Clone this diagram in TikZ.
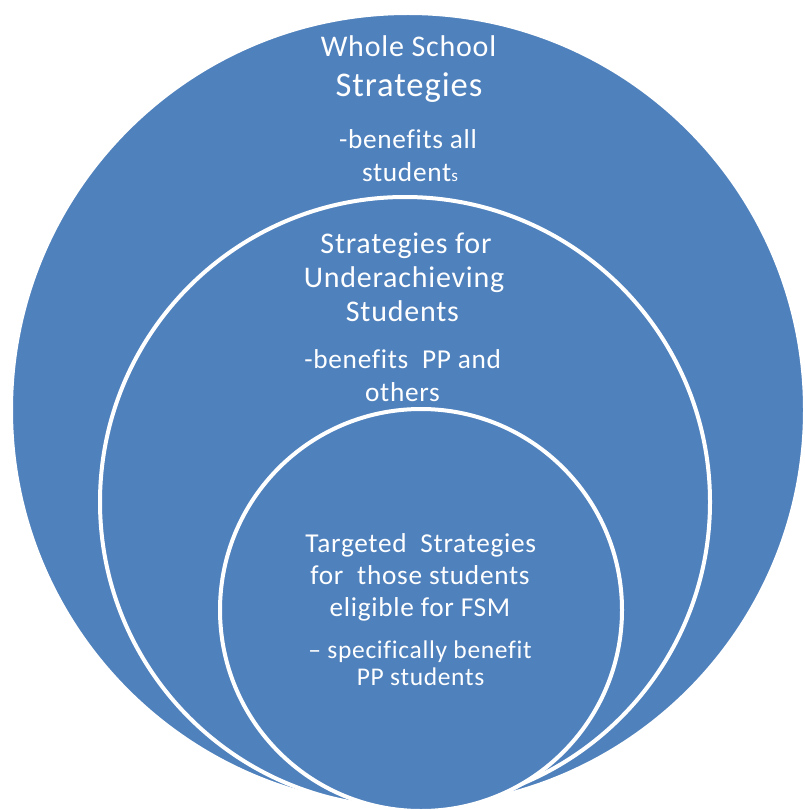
\documentclass[tikz,border=0pt]{standalone}
\usepackage{fontspec}
\setmainfont[Ligatures=NoCommon, LetterSpace=2.6]{Carlito}
\definecolor{officeblue}{HTML}{4F81BD}
\tikzset{
  ring/.style={fill=officeblue, draw=white, line width=4pt},
  lbl/.style={text=white, anchor=base, inner sep=0pt, font=\fontsize{30}{36}\selectfont},
  lblbig/.style={lbl, font=\fontsize{34.6}{42}\selectfont},
  lblmid/.style={lbl, font=\fontsize{27.3}{33}\selectfont},
  lblsmall/.style={lbl, font=\fontsize{25.5}{30}\selectfont}
}
\begin{document}
\begin{tikzpicture}[x=1pt,y=-1pt]
\useasboundingbox (0,0) rectangle (804,810);
\path[ring] (408,410) circle[radius=397];
\path[ring] (405,502) circle[radius=305];
\path[ring] (421,610) circle[radius=201];
\node[lbl] (l1) at (408.5,57) {Whole School};
\node[lblbig] (l2) at (409,96.5) {Strategies};
\node[lblmid] (l3) at (408,148.3) {-benefits all};
\node[lblmid] (l4) at (410,181.7) {student{\fontsize{17}{20}\selectfont s}};
\node[lbl] (l5) at (406,253.3) {Strategies for};
\node[lbl] (l6) at (404,287.3) {Underachieving};
\node[lbl] (l7) at (402.4,321.7) {Students};
\node[lblmid] (l8) at (402.7,368.3) {-benefits~ PP and};
\node[lblmid] (l9) at (402.5,401.7) {others};
\node[lblmid] (l10) at (420.8,552.3) {Targeted~ Strategies};
\node[lblmid] (l11) at (420,584.5) {for~ those students};
\node[lblmid] (l12) at (420,616.7) {eligible for FSM};
\node[lblsmall] (l13) at (420,658.3) {– specifically benefit};
\node[lblsmall] (l14) at (420.5,685) {PP students};
\end{tikzpicture}
\end{document}
